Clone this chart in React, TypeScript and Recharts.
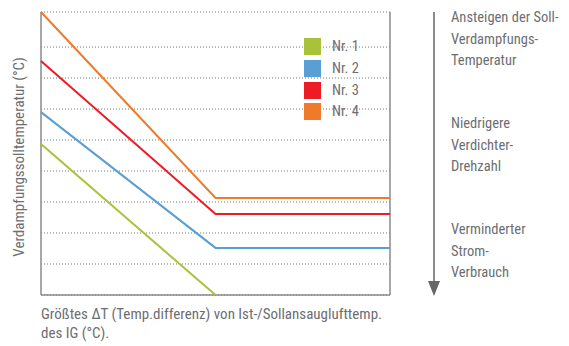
import { LineChart, Line, XAxis, YAxis, CartesianGrid, ReferenceLine } from 'recharts';

// break-point chart: evaporation set temp vs. largest delta-T
const xPoints = [0, 5, 10];
const nr1 = [4.87, 0, null];
const nr2 = [5.9, 1.52, 1.52];
const nr3 = [7.55, 2.61, 2.61];
const nr4 = [9.13, 3.13, 3.13];
const yTicks = [0, 1, 2, 3, 4, 5, 6, 7, 8, 9.13];

const seriesNames = ['Nr. 1', 'Nr. 2', 'Nr. 3', 'Nr. 4'];
const seriesColors = ['#a9c23a', '#5a9fd4', '#ed1c24', '#ef7a2b'];

const xLabelLines = ['Größtes ΔT (Temp.differenz) von Ist-/Sollansauglufttemp.', 'des IG (°C).'];
const yLabel = 'Verdampfungssolltemperatur (°C)';
const sideNotes = [
  ['Ansteigen der Soll-', 'Verdampfungs-', 'Temperatur'],
  ['Niedrigere', 'Verdichter-', 'Drehzahl'],
  ['Verminderter', 'Strom-', 'Verbrauch'],
];

const data = xPoints.map((x, i) => ({ x, nr1: nr1[i], nr2: nr2[i], nr3: nr3[i], nr4: nr4[i] }));

const FONT = "'Roboto Condensed', 'Liberation Sans Narrow', Roboto, sans-serif";
const TEXT = '#6d6e71';
const AXIS = '#8a8a8a';

export default function App() {
  return (
    <div style={{ position: 'absolute', left: 0, top: 0, width: 569, height: 346, background: '#fff' }}>
      <LineChart width={569} height={346} data={data} margin={{ top: 12, right: 179, bottom: 51, left: 41 }}>
        <CartesianGrid vertical={false} stroke="#777" strokeDasharray="1 2" />
        <XAxis dataKey="x" type="number" domain={[0, 10]} hide />
        <YAxis type="number" domain={[0, 9.13]} ticks={yTicks} hide />
        <ReferenceLine x={0} stroke={AXIS} strokeWidth={1.5} />
        <ReferenceLine x={10} stroke={AXIS} strokeWidth={1.5} />
        <ReferenceLine y={0} stroke={AXIS} strokeWidth={1.5} />
        {(['nr1', 'nr2', 'nr3', 'nr4'] as const).map((k, i) => (
          <Line key={k} dataKey={k} name={seriesNames[i]} stroke={seriesColors[i]} strokeWidth={2}
            dot={false} isAnimationActive={false} type="linear" />
        ))}
      </LineChart>
      <div style={{ position: 'absolute', left: 304, top: 36, fontFamily: FONT, fontSize: 14.5, color: TEXT }}>
        {seriesNames.map((n, i) => (
          <div key={n} style={{ display: 'flex', alignItems: 'center', height: 21.7 }}>
            <span style={{ width: 17, height: 17, background: seriesColors[i], display: 'inline-block', marginRight: 11 }} />
            {n}
          </div>
        ))}
      </div>
      <svg width={569} height={346} style={{ position: 'absolute', left: 0, top: 0, pointerEvents: 'none' }}
        fontFamily={FONT} fill={TEXT}>
        <text transform="translate(24,157) rotate(-90)" textAnchor="middle" fontSize={15}>{yLabel}</text>
        {xLabelLines.map((t, i) => (
          <text key={t} x={41} y={319 + i * 19} fontSize={15}>{t}</text>
        ))}
        <line x1={434} y1={12} x2={434} y2={282} stroke="#666" strokeWidth={1.5} />
        <polygon points="428,281 440,281 434,296" fill="#666" />
        {sideNotes.map((grp, g) =>
          grp.map((t, i) => (
            <text key={t} x={451} y={22 + g * 106 + i * 21.5} fontSize={14.5}>{t}</text>
          )),
        )}
      </svg>
    </div>
  );
}
